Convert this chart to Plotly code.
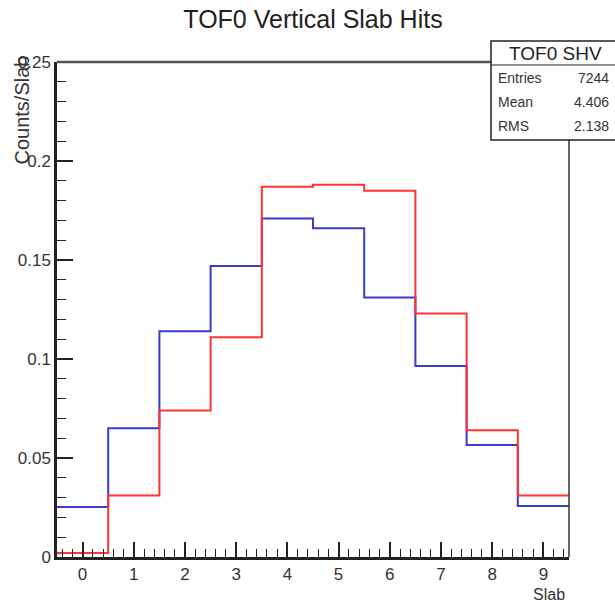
import plotly.graph_objects as go

# Data
slabs = [0, 1, 2, 3, 4, 5, 6, 7, 8, 9]
blue_vals = [0.0253, 0.065, 0.114, 0.147, 0.171, 0.166, 0.131, 0.0965, 0.0566, 0.0258]
red_vals = [0.002, 0.031, 0.074, 0.111, 0.187, 0.188, 0.185, 0.123, 0.064, 0.031]
y_ticks = [0, 0.05, 0.1, 0.15, 0.2, 0.25]
y_tick_labels = ["0", "0.05", "0.1", "0.15", "0.2", "0.25"]
stats_title = "TOF0 SHV"
stats_labels = ["Entries", "Mean", "RMS"]
stats_values = ["7244", "4.406", "2.138"]

W, H = 615, 602
L, R, T, B = 57, 46, 62, 45
PW, PH = W - L - R, H - T - B


def steps(vals):
    edges = [s - 0.5 for s in slabs] + [slabs[-1] + 0.5]
    return edges, list(vals) + [vals[-1]]


fig = go.Figure()
for vals, col in [(blue_vals, "#3a3acc"), (red_vals, "#ff3333")]:
    xs, ys = steps(vals)
    fig.add_trace(go.Scatter(x=xs, y=ys, mode="lines", line=dict(color=col, width=2, shape="hv"),
                             hoverinfo="skip", showlegend=False))

font = "Liberation Sans, Arial, sans-serif"


def px_x(p):
    return (p - L) / PW


def px_y(p):
    return ((H - B) - p) / PH


shapes = []
# Frame top and right
shapes.append(dict(type="line", xref="paper", yref="paper", x0=0, x1=1, y0=1, y1=1,
                   line=dict(color="#555555", width=2.5), layer="above"))
shapes.append(dict(type="line", xref="paper", yref="paper", x0=1, x1=1, y0=0, y1=1,
                   line=dict(color="#333333", width=1.5), layer="above"))
# Stats box
bx0, bx1, by0, by1 = 491, 618, 41, 140
shapes.append(dict(type="rect", xref="paper", yref="paper", x0=px_x(bx0), x1=px_x(bx1), y0=px_y(by1), y1=px_y(by0),
                   line=dict(color="#222222", width=1.5), fillcolor="white", layer="above"))
shapes.append(dict(type="line", xref="paper", yref="paper", x0=px_x(bx0), x1=px_x(bx1), y0=px_y(65), y1=px_y(65),
                   line=dict(color="#222222", width=1.2), layer="above"))

annotations = []
annotations.append(dict(text=stats_title, xref="paper", yref="paper", x=px_x(555), y=px_y(53), xanchor="center",
                        yanchor="middle", showarrow=False, font=dict(family=font, size=19, color="#222222")))
row_y = [78, 102, 126]
for lab, val, yy in zip(stats_labels, stats_values, row_y):
    annotations.append(dict(text=lab, xref="paper", yref="paper", x=px_x(496), y=px_y(yy), xanchor="left",
                            yanchor="middle", showarrow=False, font=dict(family=font, size=14, color="#333333")))
    annotations.append(dict(text=val, xref="paper", yref="paper", x=px_x(611), y=px_y(yy), xanchor="right",
                            yanchor="middle", showarrow=False, font=dict(family=font, size=14, color="#333333")))
# Axis titles
annotations.append(dict(text="Counts/Slab", xref="paper", yref="paper", x=px_x(22), y=px_y(54), xanchor="center",
                        yanchor="top", textangle=-90, showarrow=False, font=dict(family=font, size=20, color="#333333")))
annotations.append(dict(text="Slab", xref="paper", yref="paper", x=px_x(567), y=px_y(594), xanchor="right",
                        yanchor="middle", showarrow=False, font=dict(family=font, size=16, color="#333333")))

tick_font = dict(family=font, size=17, color="#333333")

fig.update_layout(
    width=W, height=H,
    margin=dict(l=L, r=R, t=T, b=B),
    paper_bgcolor="white", plot_bgcolor="white",
    title=dict(text="TOF0 Vertical Slab Hits", x=313 / W, xanchor="center", y=1 - 19 / H, yanchor="middle",
               font=dict(family=font, size=25, color="#222222")),
    xaxis=dict(range=[-0.5, 9.5], tickvals=slabs, ticktext=[str(s) for s in slabs], ticks="inside", ticklen=15,
               tickwidth=1.5, tickcolor="#222222", showgrid=False, zeroline=False, showline=True,
               linecolor="#222222", linewidth=2.5, tickfont=tick_font,
               minor=dict(dtick=0.2, tick0=0, ticks="inside", ticklen=8, tickwidth=1, tickcolor="#222222"),
               fixedrange=True),
    yaxis=dict(range=[0, 0.25], tickvals=y_ticks, ticktext=y_tick_labels, ticks="inside", ticklen=16,
               tickwidth=1.5, tickcolor="#222222", showgrid=False, zeroline=False, showline=True,
               linecolor="#222222", linewidth=2.5, tickfont=tick_font,
               minor=dict(dtick=0.01, tick0=0, ticks="inside", ticklen=9, tickwidth=1, tickcolor="#222222"),
               fixedrange=True),
    shapes=shapes,
    annotations=annotations,
)

fig.write_html("out.html", config={"displayModeBar": False},
               post_script="document.body.style.margin='0';document.body.style.overflow='hidden';")
